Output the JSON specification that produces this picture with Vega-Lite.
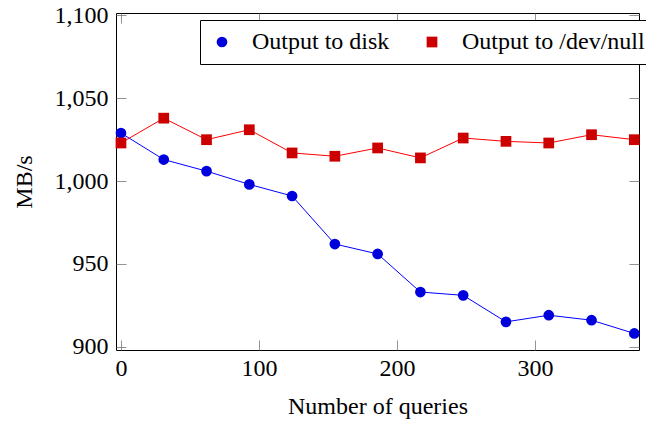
{
  "$schema": "https://vega.github.io/schema/vega-lite/v6.json",
  "width": 523,
  "height": 337,
  "autosize": {"type": "none"},
  "padding": {"left": 116, "top": 13, "right": 7, "bottom": 73},
  "background": "white",
  "config": {
    "view": {"stroke": "#000000", "strokeWidth": 1},
    "font": "Liberation Serif",
    "axis": {
      "grid": false,
      "domain": false,
      "tickColor": "#777777",
      "tickWidth": 0.8,
      "tickSize": -10,
      "labelFont": "Liberation Serif",
      "labelFontSize": 24,
      "labelColor": "#000000",
      "titleFont": "Liberation Serif",
      "titleFontSize": 24,
      "titleFontWeight": "normal",
      "titleColor": "#000000"
    },
    "legend": {
      "labelFont": "Liberation Serif",
      "labelFontSize": 24,
      "labelColor": "#000000"
    }
  },
  "data": {
    "values": [
      {"q": 0, "series": "Output to disk", "mbs": 1029},
      {"q": 31, "series": "Output to disk", "mbs": 1013},
      {"q": 62, "series": "Output to disk", "mbs": 1006},
      {"q": 93, "series": "Output to disk", "mbs": 998},
      {"q": 124, "series": "Output to disk", "mbs": 991},
      {"q": 155, "series": "Output to disk", "mbs": 962},
      {"q": 186, "series": "Output to disk", "mbs": 956},
      {"q": 217, "series": "Output to disk", "mbs": 933},
      {"q": 248, "series": "Output to disk", "mbs": 931},
      {"q": 279, "series": "Output to disk", "mbs": 915},
      {"q": 310, "series": "Output to disk", "mbs": 919},
      {"q": 341, "series": "Output to disk", "mbs": 916},
      {"q": 372, "series": "Output to disk", "mbs": 908},
      {"q": 0, "series": "Output to /dev/null", "mbs": 1023},
      {"q": 31, "series": "Output to /dev/null", "mbs": 1038},
      {"q": 62, "series": "Output to /dev/null", "mbs": 1025},
      {"q": 93, "series": "Output to /dev/null", "mbs": 1031},
      {"q": 124, "series": "Output to /dev/null", "mbs": 1017},
      {"q": 155, "series": "Output to /dev/null", "mbs": 1015},
      {"q": 186, "series": "Output to /dev/null", "mbs": 1020},
      {"q": 217, "series": "Output to /dev/null", "mbs": 1014},
      {"q": 248, "series": "Output to /dev/null", "mbs": 1026},
      {"q": 279, "series": "Output to /dev/null", "mbs": 1024},
      {"q": 310, "series": "Output to /dev/null", "mbs": 1023},
      {"q": 341, "series": "Output to /dev/null", "mbs": 1028},
      {"q": 372, "series": "Output to /dev/null", "mbs": 1025}
    ]
  },
  "layer": [
    {
      "mark": {"type": "line", "strokeWidth": 1},
      "encoding": {
        "x": {
          "field": "q", "type": "quantitative",
          "scale": {"domain": [-3.6, 375.4], "nice": false, "zero": false},
          "axis": {"orient": "bottom", "values": [0, 100, 200, 300], "format": "d", "title": "Number of queries", "labelPadding": 16, "titlePadding": 14}
        },
        "y": {
          "field": "mbs", "type": "quantitative",
          "scale": {"domain": [898, 1101.5], "nice": false, "zero": false},
          "axis": {"orient": "left", "values": [900, 950, 1000, 1050, 1100], "format": ",d", "title": "MB/s", "labelPadding": 18, "titlePadding": 18}
        },
        "detail": {"field": "series", "type": "nominal"},
        "stroke": {
          "field": "series", "type": "nominal",
          "scale": {"domain": ["Output to /dev/null", "Output to disk"], "range": ["#ff0000", "#0000ff"]},
          "legend": null
        }
      }
    },
    {
      "mark": {"type": "point", "filled": true, "size": 115, "strokeWidth": 1, "opacity": 1},
      "encoding": {
        "x": {
          "field": "q", "type": "quantitative",
          "axis": {"orient": "top", "values": [0, 100, 200, 300], "labels": false, "title": null}
        },
        "y": {
          "field": "mbs", "type": "quantitative",
          "axis": {"orient": "right", "values": [900, 950, 1000, 1050, 1100], "labels": false, "title": null}
        },
        "color": {
          "field": "series", "type": "nominal",
          "scale": {"domain": ["Output to disk", "Output to /dev/null"], "range": ["#0000dd", "#cc0000"]},
          "legend": {
            "title": null,
            "orient": "none",
            "legendX": 84,
            "legendY": 7,
            "direction": "horizontal",
            "fillColor": "white",
            "strokeColor": "#000000",
            "padding": 10,
            "columnPadding": 30,
            "labelOffset": 18,
            "labelLimit": 400,
            "symbolSize": 115,
            "symbolStrokeWidth": 1
          }
        },
        "shape": {
          "field": "series", "type": "nominal",
          "scale": {"domain": ["Output to disk", "Output to /dev/null"], "range": ["circle", "square"]}
        }
      }
    }
  ],
  "resolve": {"axis": {"x": "independent", "y": "independent"}}
}
